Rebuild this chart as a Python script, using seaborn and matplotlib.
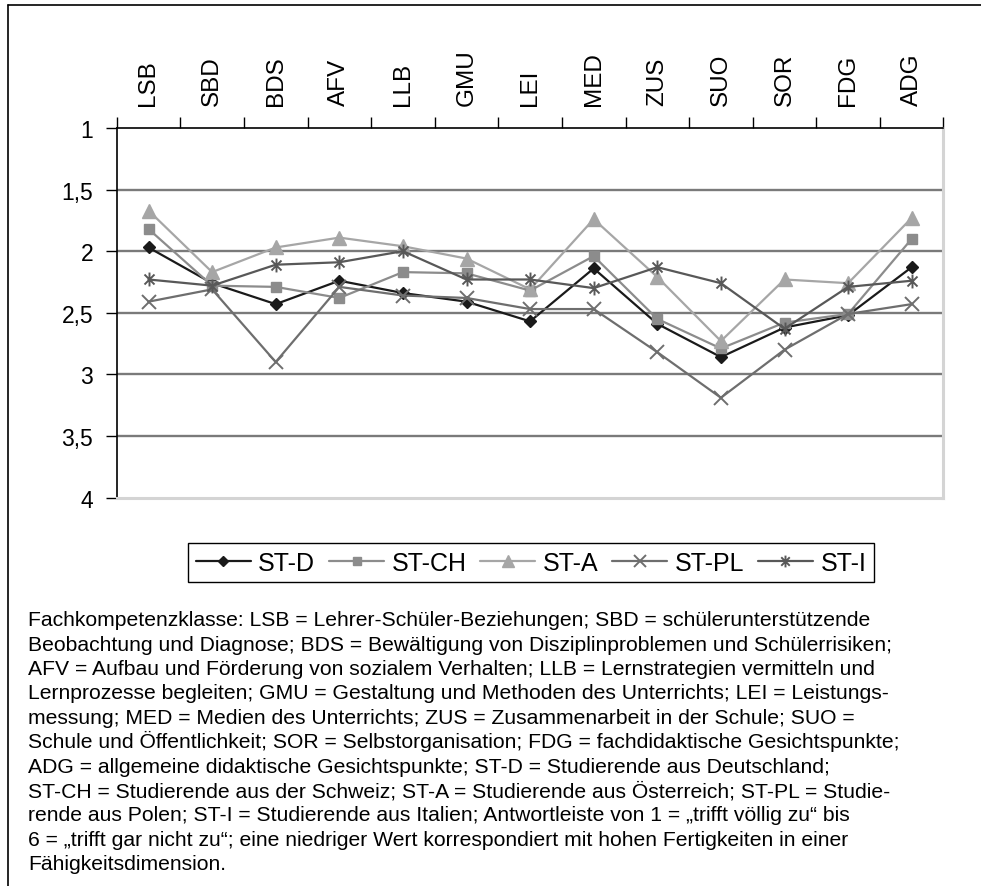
import numpy as np
import pandas as pd
import seaborn as sns
import matplotlib
matplotlib.use("Agg")
import matplotlib.pyplot as plt
from matplotlib.path import Path
from matplotlib.lines import Line2D

# ---------------- data ----------------
categories = ["LSB", "SBD", "BDS", "AFV", "LLB", "GMU", "LEI",
              "MED", "ZUS", "SUO", "SOR", "FDG", "ADG"]
series_names = ["ST-D", "ST-CH", "ST-A", "ST-PL", "ST-I"]
st_d = [1.97, 2.26, 2.43, 2.24, 2.34, 2.41, 2.57, 2.14, 2.59, 2.86, 2.62, 2.52, 2.13]
st_ch = [1.82, 2.28, 2.29, 2.38, 2.17, 2.18, 2.32, 2.04, 2.55, 2.79, 2.58, 2.51, 1.90]
st_a = [1.67, 2.17, 1.97, 1.89, 1.96, 2.06, 2.31, 1.74, 2.21, 2.73, 2.23, 2.26, 1.73]
st_pl = [2.41, 2.31, 2.90, 2.29, 2.36, 2.38, 2.47, 2.47, 2.82, 3.19, 2.80, 2.51, 2.43]
st_i = [2.23, 2.28, 2.11, 2.09, 2.00, 2.23, 2.23, 2.30, 2.13, 2.26, 2.63, 2.29, 2.24]
y_ticks = [1, 1.5, 2, 2.5, 3, 3.5, 4]
y_tick_labels = ["1", "1,5", "2", "2,5", "3", "3,5", "4"]
grid_values = [1.5, 2, 2.5, 3, 3.5]

footnote_lines = [
    "Fachkompetenzklasse: LSB = Lehrer-Schüler-Beziehungen; SBD = schülerunterstützende",
    "Beobachtung und Diagnose; BDS = Bewältigung von Disziplinproblemen und Schülerrisiken;",
    "AFV = Aufbau und Förderung von sozialem Verhalten; LLB = Lernstrategien vermitteln und",
    "Lernprozesse begleiten; GMU = Gestaltung und Methoden des Unterrichts; LEI = Leistungs-",
    "messung; MED = Medien des Unterrichts; ZUS = Zusammenarbeit in der Schule; SUO =",
    "Schule und Öffentlichkeit; SOR = Selbstorganisation; FDG = fachdidaktische Gesichtspunkte;",
    "ADG = allgemeine didaktische Gesichtspunkte; ST-D = Studierende aus Deutschland;",
    "ST-CH = Studierende aus der Schweiz; ST-A = Studierende aus Österreich; ST-PL = Studie-",
    "rende aus Polen; ST-I = Studierende aus Italien; Antwortleiste von 1 = „trifft völlig zu“ bis",
    "6 = „trifft gar nicht zu“; eine niedriger Wert korrespondiert mit hohen Fertigkeiten in einer",
    "Fähigkeitsdimension.",
]

# ---------------- style ----------------
sns.set_theme(style="white")
plt.rcParams["font.family"] = ["Liberation Sans", "DejaVu Sans"]

W, H = 981, 887
fig = plt.figure(figsize=(W / 100, H / 100), dpi=100)
fig.patch.set_facecolor("white")

ax_l, ax_r, ax_t, ax_b = 116.7, 943.5, 129.0, 498.5
ax = fig.add_axes([ax_l / W, 1 - ax_b / H, (ax_r - ax_l) / W, (ax_b - ax_t) / H])
ax.set_facecolor("white")

asterisk = Path(
    [(0, -1), (0, 1), (-0.72, -0.72), (0.72, 0.72), (-0.72, 0.72), (0.72, -0.72)],
    [Path.MOVETO, Path.LINETO, Path.MOVETO, Path.LINETO, Path.MOVETO, Path.LINETO],
)

styles = {
    "ST-D": dict(values=st_d, color="#1a1a1a", marker="D", ms=5.8, mew=1.0, fill=True),
    "ST-CH": dict(values=st_ch, color="#8c8c8c", marker="s", ms=7.2, mew=1.0, fill=True),
    "ST-A": dict(values=st_a, color="#a6a6a6", marker="^", ms=9.5, mew=1.0, fill=True),
    "ST-PL": dict(values=st_pl, color="#6e6e6e", marker="x", ms=9.5, mew=1.4, fill=False),
    "ST-I": dict(values=st_i, color="#585858", marker=asterisk, ms=10.0, mew=1.4, fill=False),
}

pos = np.arange(len(categories))
for name in series_names:
    st = styles[name]
    df = pd.DataFrame({"pos": pos, "val": st["values"]})
    sns.lineplot(
        data=df, x="pos", y="val", ax=ax, color=st["color"], linewidth=1.6,
        marker=st["marker"], markersize=st["ms"], markeredgewidth=st["mew"],
        markeredgecolor=st["color"],
        markerfacecolor=st["color"] if st["fill"] else "none",
        label=name, zorder=3,
    )

for g in grid_values:
    ax.axhline(g, color="#7a7a7a", linewidth=1.7, zorder=1)

ax.set_xlim(-0.5, len(categories) - 0.5)
ax.set_ylim(4, 1)
ax.set_xlabel("")
ax.set_ylabel("")

# spines
for side in ["left", "top"]:
    ax.spines[side].set_visible(True)
    ax.spines[side].set_color("black")
    ax.spines[side].set_linewidth(1.2)
for side in ["right", "bottom"]:
    ax.spines[side].set_visible(True)
    ax.spines[side].set_color("#d4d4d4")
    ax.spines[side].set_linewidth(2.2)

# x axis on top: ticks at category boundaries, labels at centers
ax.xaxis.set_ticks_position("top")
ax.set_xticks(np.arange(-0.5, len(categories), 1.0))
ax.set_xticklabels([])
ax.set_xticks(pos, minor=True)
ax.set_xticklabels(categories, minor=True, rotation=90, fontsize=17.5, color="black")
ax.tick_params(axis="x", which="major", top=True, bottom=False, length=8, width=1,
               color="black", direction="out", labeltop=False, labelbottom=False)
ax.tick_params(axis="x", which="minor", top=True, bottom=False, length=0,
               pad=16.5, labeltop=True, labelbottom=False)

ax.set_yticks(y_ticks)
ax.set_yticklabels(y_tick_labels, fontsize=16.5, color="black")
ax.tick_params(axis="y", which="major", left=True, right=False, length=8, width=1,
               color="black", direction="out", pad=9)

# legend
handles, labels = ax.get_legend_handles_labels()
if ax.get_legend() is not None:
    ax.get_legend().remove()
leg = fig.legend(
    handles, labels, loc="center", bbox_to_anchor=(531 / W, 1 - 563.7 / H),
    ncol=5, frameon=True, fancybox=False, framealpha=1, edgecolor="black",
    fontsize=18, handlelength=2.2, handletextpad=0.3, columnspacing=0.55,
    borderpad=0.3, markerscale=0.85,
)
leg.get_frame().set_linewidth(1.0)
for t in leg.get_texts():
    t.set_color("black")

# footnote
for i, line in enumerate(footnote_lines):
    fig.text(28 / W, 1 - (626.3 + 24.4 * i) / H, line, ha="left", va="baseline",
             fontsize=15.2, color="black")

# outer frame (top and left edges)
fig.add_artist(Line2D([8 / W, 1.0], [1 - 6 / H, 1 - 6 / H], transform=fig.transFigure,
                      color="black", linewidth=1.2))
fig.add_artist(Line2D([8 / W, 8 / W], [0, 1 - 6 / H], transform=fig.transFigure,
                      color="black", linewidth=1.2))

fig.savefig("out.png", dpi=100, facecolor="white")
